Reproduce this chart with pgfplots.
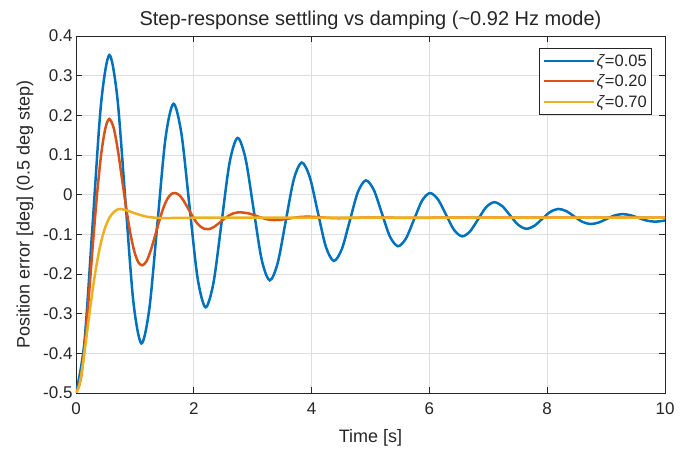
\documentclass[border=0pt]{standalone}
\usepackage{fontspec}
\setmainfont{Liberation Sans}
\usepackage{pgfplots}
\pgfplotsset{compat=1.18}
\definecolor{mblue}{rgb}{0,0.447,0.741}
\definecolor{morange}{rgb}{0.85,0.325,0.098}
\definecolor{myellow}{rgb}{0.929,0.694,0.125}
\definecolor{axgray}{rgb}{0.15,0.15,0.15}
\definecolor{gridgray}{rgb}{0.87,0.87,0.87}
\begin{document}
\begin{tikzpicture}
\begin{axis}[name=ax, scale only axis, width=589pt, height=357pt,
  xmin=0, xmax=10, ymin=-0.5, ymax=0.4,
  xtick={0,2,4,6,8,10},
  ytick={-0.5,-0.4,-0.3,-0.2,-0.1,0,0.1,0.2,0.3,0.4},
  /pgf/number format/assume math mode=true,
  /pgf/number format/fixed,
  /pgf/number format/precision=1,
  tick label style={font=\fontsize{17}{20}\selectfont, text=axgray},
  xticklabel style={yshift=-6pt},
  label style={font=\fontsize{18}{21}\selectfont, text=axgray},
  xlabel style={yshift=-8pt},
  ylabel shift=3pt,
  title style={font=\fontsize{20}{23}\selectfont, text=axgray, yshift=-3pt},
  xlabel={Time [s]},
  ylabel={Position error [deg] (0.5 deg step)},
  title={Step-response settling vs damping (\textasciitilde0.92 Hz mode)},
  grid=major,
  major grid style={gridgray, line width=0.6pt},
  axis line style={axgray, line width=0.8pt},
  tick style={axgray, line width=0.8pt},
  major tick length=6pt,
  tick align=inside,
  legend style={at={(1,1)}, xshift=-13pt, yshift=-12pt, anchor=north east,
    font=\fontsize{16.5}{19}\selectfont, draw=axgray, line width=0.6pt, fill=white,
    row sep=3pt, inner xsep=3pt, inner ysep=4pt,
    nodes={inner sep=2pt, text=axgray}},
  legend cell align=left,
  legend image code/.code={\draw[#1, line width=2pt] (0pt,0pt) -- (50pt,0pt);},
]
\addplot[mblue, line width=2.5pt, smooth] coordinates {
(0,-0.5) (0.141,-0.375) (0.2825,-0.074) (0.424,0.227) (0.565,0.352)
(0.701,0.2456) (0.837,-0.0115) (0.973,-0.2686) (1.11,-0.375)
(1.246,-0.2866) (1.382,-0.073) (1.518,0.1406) (1.654,0.229)
(1.790,0.1539) (1.926,-0.0275) (2.063,-0.2089) (2.199,-0.284)
(2.335,-0.2215) (2.471,-0.0705) (2.607,0.0805) (2.743,0.143)
(2.879,0.0905) (3.015,-0.0365) (3.152,-0.1635) (3.288,-0.216)
(3.424,-0.1725) (3.560,-0.0675) (3.696,0.0375) (3.832,0.081)
(3.968,0.0447) (4.104,-0.043) (4.241,-0.1307) (4.377,-0.167)
(4.513,-0.1373) (4.649,-0.0655) (4.785,0.0063) (4.921,0.036)
(5.057,0.0117) (5.193,-0.047) (5.330,-0.1057) (5.466,-0.130)
(5.602,-0.1104) (5.738,-0.063) (5.874,-0.0156) (6.010,0.004)
(6.146,-0.012) (6.282,-0.0505) (6.419,-0.089) (6.555,-0.105)
(6.691,-0.0924) (6.827,-0.062) (6.963,-0.0316) (7.099,-0.019)
(7.235,-0.0288) (7.371,-0.0525) (7.508,-0.0762) (7.644,-0.086)
(7.780,-0.0787) (7.916,-0.061) (8.052,-0.0433) (8.188,-0.036)
(8.324,-0.0415) (8.460,-0.055) (8.597,-0.0685) (8.733,-0.074)
(8.869,-0.0704) (9.005,-0.0615) (9.141,-0.0526) (9.277,-0.049)
(9.413,-0.0518) (9.549,-0.0585) (9.686,-0.0652) (9.822,-0.068)
(9.958,-0.0662) (10,-0.065)
};
\addlegendentry{\textit{ζ}=0.05}
\addplot[morange, line width=2.5pt, smooth] coordinates {
(0,-0.5) (0.08,-0.466) (0.15,-0.377) (0.22,-0.253) (0.29,-0.119)
(0.36,0.005) (0.43,0.105) (0.50,0.168) (0.565,0.191) (0.64,0.168)
(0.71,0.113) (0.78,0.041) (0.85,-0.031) (0.92,-0.095) (0.99,-0.143)
(1.06,-0.171) (1.13,-0.178) (1.20,-0.167) (1.27,-0.140) (1.34,-0.105)
(1.41,-0.068) (1.48,-0.035) (1.55,-0.011) (1.62,0.002) (1.69,0.004)
(1.76,-0.002) (1.83,-0.016) (1.90,-0.034) (1.97,-0.052) (2.04,-0.069)
(2.11,-0.080) (2.18,-0.086) (2.25,-0.087) (2.32,-0.0833) (2.39,-0.0763)
(2.46,-0.0679) (2.53,-0.0595) (2.60,-0.0523) (2.67,-0.0473) (2.74,-0.0449)
(2.81,-0.0447) (2.939,-0.0475) (3.078,-0.0544) (3.216,-0.0612) (3.355,-0.064)
(3.494,-0.0628) (3.633,-0.0598) (3.771,-0.0567) (3.91,-0.0555) (4.049,-0.0561)
(4.188,-0.0575) (4.326,-0.0589) (4.465,-0.0595) (4.74,-0.0585) (5.02,-0.0576)
(5.575,-0.0584) (6.5,-0.058) (8,-0.058) (10,-0.058)
};
\addlegendentry{\textit{ζ}=0.20}
\addplot[myellow, line width=2.5pt, smooth] coordinates {
(0,-0.5) (0.05,-0.484) (0.10,-0.444) (0.15,-0.391) (0.20,-0.333)
(0.25,-0.276) (0.30,-0.222) (0.35,-0.176) (0.40,-0.137) (0.45,-0.105)
(0.50,-0.081) (0.55,-0.063) (0.60,-0.051) (0.65,-0.043) (0.70,-0.0375)
(0.75,-0.036) (0.85,-0.039) (1.0,-0.047) (1.2,-0.0555) (1.4,-0.0586)
(1.6,-0.0589) (2.0,-0.0582) (4,-0.058) (7,-0.058) (10,-0.058)
};
\addlegendentry{\textit{ζ}=0.70}
\end{axis}
\pgfresetboundingbox
\path ([xshift=-76pt,yshift=-67pt]ax.south west) rectangle ([xshift=26pt,yshift=36pt]ax.north east);
\end{tikzpicture}
\end{document}
